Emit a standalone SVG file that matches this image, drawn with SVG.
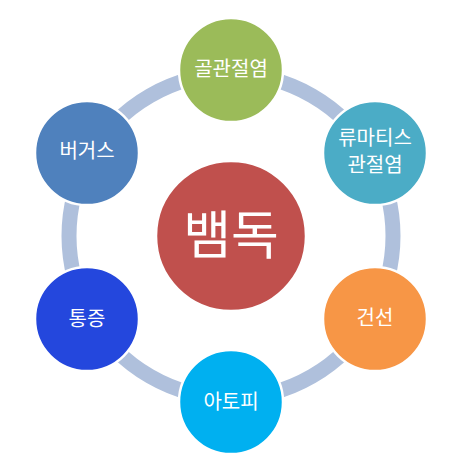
<svg xmlns="http://www.w3.org/2000/svg" width="463" height="466" viewBox="0 0 463 466">
<style>
.arc{fill:none;stroke:#AFC0DC;stroke-width:15}
.node{stroke:#FFFFFF;stroke-width:2.5}
.lbl{font-family:"Noto Sans CJK KR","Noto Sans",sans-serif;fill:#FFFFFF;text-anchor:middle;font-size:20px}
.big{font-size:52px}
</style>
<rect width="463" height="466" fill="#FFFFFF"/>
<g id="connectors">
<path class="arc" d="M231,74 A162,162 0 0 1 371.3,155"/>
<path class="arc" d="M371.3,155 A162,162 0 0 1 371.3,317"/>
<path class="arc" d="M371.3,317 A162,162 0 0 1 231,398"/>
<path class="arc" d="M231,398 A162,162 0 0 1 90.7,317"/>
<path class="arc" d="M90.7,317 A162,162 0 0 1 90.7,155"/>
<path class="arc" d="M90.7,155 A162,162 0 0 1 231,74"/>
</g>
<g id="center">
<circle class="node" cx="231" cy="236" r="75" fill="#C0504D"/>
<text class="lbl big" x="231" y="254">뱀독</text>
</g>
<g id="n1">
<circle class="node" cx="231" cy="70" r="52" fill="#9BBB59"/>
<text class="lbl" x="231" y="76">골관절염</text>
</g>
<g id="n2">
<circle class="node" cx="375" cy="153" r="52" fill="#4BACC6"/>
<text class="lbl" x="375" y="144.5">류마티스</text>
<text class="lbl" x="375" y="172">관절염</text>
</g>
<g id="n3">
<circle class="node" cx="375" cy="319" r="52" fill="#F79646"/>
<text class="lbl" x="375" y="324.5">건선</text>
</g>
<g id="n4">
<circle class="node" cx="231" cy="402" r="52" fill="#00B0F0"/>
<text class="lbl" x="231" y="408.5">아토피</text>
</g>
<g id="n5">
<circle class="node" cx="87" cy="319" r="52" fill="#2447DD"/>
<text class="lbl" x="87" y="325.5">통증</text>
</g>
<g id="n6">
<circle class="node" cx="87" cy="153" r="52" fill="#4F81BD"/>
<text class="lbl" x="87" y="158">버거스</text>
</g>
</svg>
